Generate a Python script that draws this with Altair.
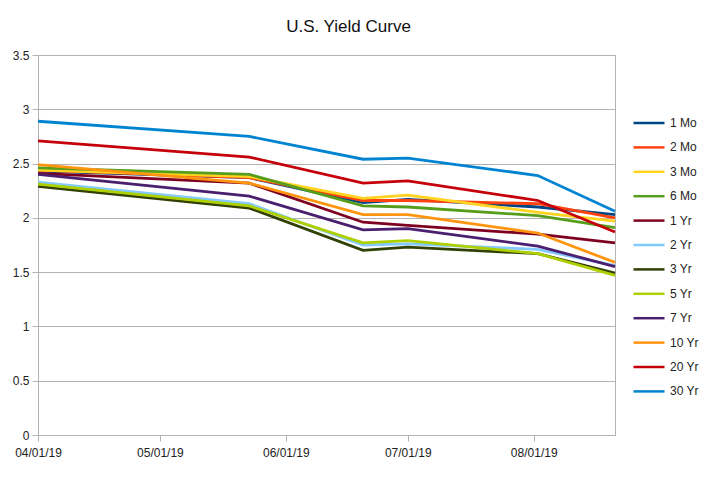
import altair as alt
import pandas as pd

dates = ["2019-04-01", "2019-05-23", "2019-06-20", "2019-07-01", "2019-08-02", "2019-08-21"]
series = ["1 Mo", "2 Mo", "3 Mo", "6 Mo", "1 Yr", "2 Yr", "3 Yr", "5 Yr", "7 Yr", "10 Yr", "20 Yr", "30 Yr"]
y_1mo = [2.43, 2.37, 2.14, 2.17, 2.10, 2.03]
y_2mo = [2.44, 2.37, 2.16, 2.16, 2.13, 2.00]
y_3mo = [2.44, 2.38, 2.18, 2.21, 2.05, 1.97]
y_6mo = [2.46, 2.40, 2.11, 2.10, 2.02, 1.91]
y_1yr = [2.41, 2.32, 1.96, 1.93, 1.85, 1.77]
y_2yr = [2.33, 2.13, 1.75, 1.76, 1.71, 1.56]
y_3yr = [2.29, 2.09, 1.70, 1.73, 1.67, 1.49]
y_5yr = [2.31, 2.11, 1.77, 1.79, 1.67, 1.47]
y_7yr = [2.40, 2.20, 1.89, 1.90, 1.74, 1.55]
y_10yr = [2.49, 2.32, 2.03, 2.03, 1.86, 1.59]
y_20yr = [2.71, 2.56, 2.32, 2.34, 2.16, 1.87]
y_30yr = [2.89, 2.75, 2.54, 2.55, 2.39, 2.06]
colors = ["#004586", "#ff420e", "#ffd320", "#579d1c", "#7e0021", "#83caff",
          "#314004", "#aecf00", "#4b1f6f", "#ff950e", "#c5000b", "#0084d1"]
tick_dates = ["2019-04-01", "2019-05-01", "2019-06-01", "2019-07-01", "2019-08-01"]

all_vals = [y_1mo, y_2mo, y_3mo, y_6mo, y_1yr, y_2yr, y_3yr, y_5yr, y_7yr, y_10yr, y_20yr, y_30yr]
rows = []
for s, vals in zip(series, all_vals):
    for d, v in zip(dates, vals):
        rows.append({"date": d, "series": s, "yield": v})
df = pd.DataFrame(rows)

font = "Liberation Sans"

chart = alt.Chart(df).mark_line(strokeWidth=2.8).encode(
    x=alt.X("date:T",
            scale=alt.Scale(domain=[dates[0], dates[-1]], nice=False),
            axis=alt.Axis(title=None, format="%m/%d/%y",
                          values=[pd.Timestamp(t).isoformat() for t in tick_dates],
                          grid=False, labelFontSize=12, labelColor="#222222",
                          labelFont=font, tickColor="#b3b3b3", domainColor="#b3b3b3",
                          tickSize=6, labelPadding=6, labelFlush=False)),
    y=alt.Y("yield:Q",
            scale=alt.Scale(domain=[0, 3.5], nice=False),
            axis=alt.Axis(title=None, values=[0, 0.5, 1, 1.5, 2, 2.5, 3, 3.5],
                          format="~g", labelFontSize=12, labelColor="#222222",
                          labelFont=font, gridColor="#b3b3b3", tickColor="#b3b3b3",
                          domainColor="#b3b3b3", tickSize=6, labelPadding=3)),
    color=alt.Color("series:N", sort=series,
                    scale=alt.Scale(domain=series, range=colors),
                    legend=alt.Legend(title=None, orient="none", legendX=594, legendY=51,
                                      symbolType="stroke", symbolSize=960,
                                      symbolStrokeWidth=2.5, labelFontSize=12,
                                      labelFont=font, labelColor="#222222",
                                      rowPadding=1.4, labelOffset=4)),
    order=alt.Order("date:T"),
).properties(
    width=577,
    height=380,
    title=alt.TitleParams("U.S. Yield Curve", fontSize=17, font=font,
                          fontWeight="normal", color="#111111",
                          anchor="middle", offset=13, frame="group", dx=22),
    autosize=alt.AutoSizeParams(type="none"),
    padding={"left": 30, "top": 47, "right": 85, "bottom": 38},
).configure_view(stroke="#b3b3b3")

chart.save("out.html", embed_options={"renderer": "svg", "actions": False})
